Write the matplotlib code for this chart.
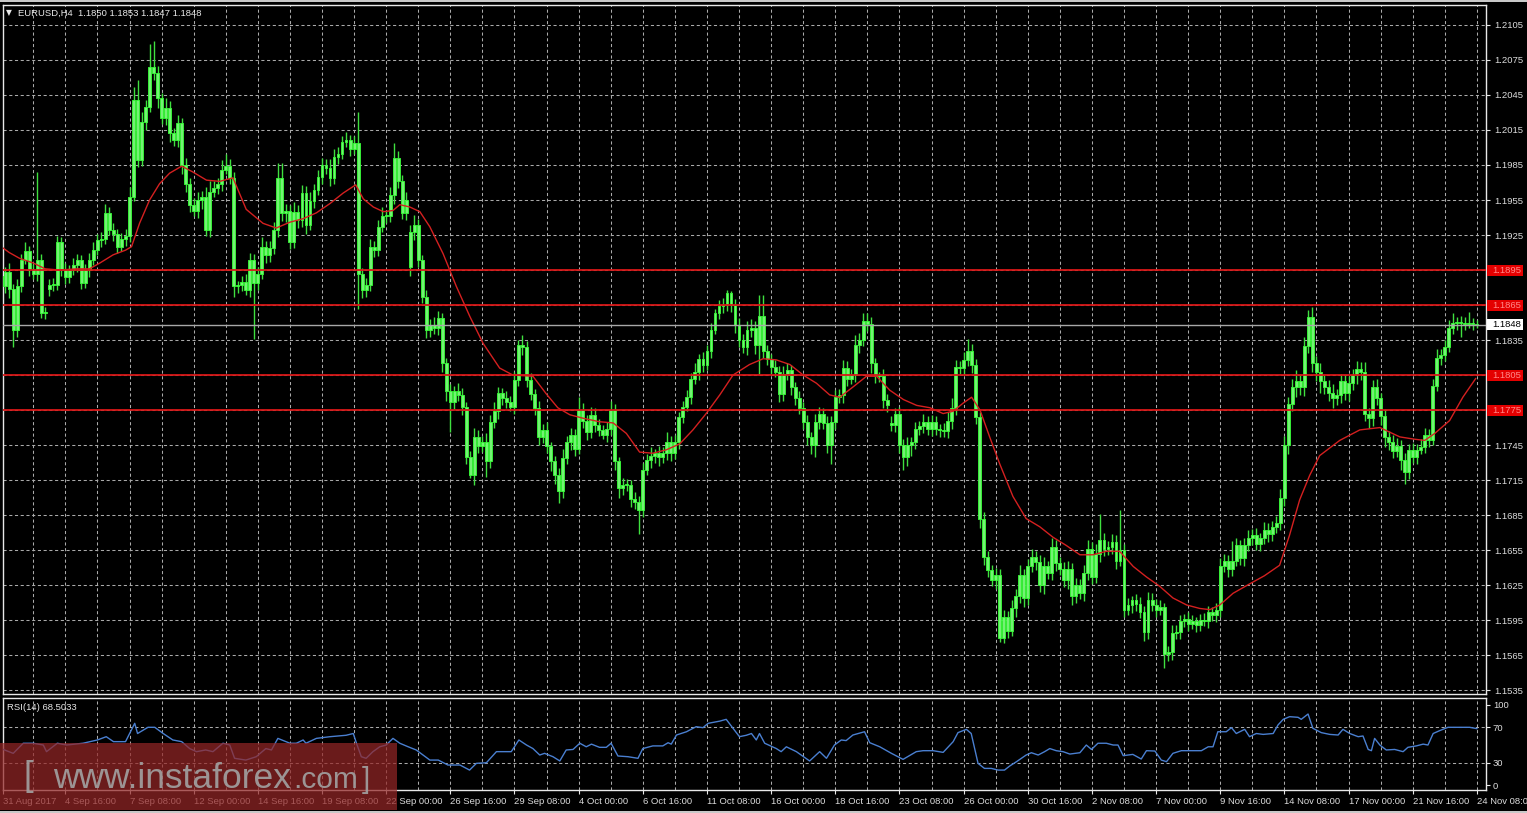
import numpy as np
import matplotlib
matplotlib.use("Agg")
import matplotlib.pyplot as plt
from matplotlib.patches import Rectangle
from matplotlib.collections import LineCollection, PolyCollection

W, H = 1527, 813

# ---------------------------------------------------------------
# data (prices in pips above 1.0000, e.g. 1897 -> 1.1897)
# ---------------------------------------------------------------
date_labels = ["31 Aug 2017", "4 Sep 16:00", "7 Sep 08:00", "12 Sep 00:00", "14 Sep 16:00",
               "19 Sep 08:00", "22 Sep 00:00", "26 Sep 16:00", "29 Sep 08:00", "4 Oct 00:00",
               "6 Oct 16:00", "11 Oct 08:00", "16 Oct 00:00", "18 Oct 16:00", "23 Oct 08:00",
               "26 Oct 00:00", "30 Oct 16:00", "2 Nov 08:00", "7 Nov 00:00", "9 Nov 16:00",
               "14 Nov 08:00", "17 Nov 00:00", "21 Nov 16:00", "24 Nov 08:00"]

first_open = 1890
closes = [
    1881, 1893, 1879, 1844, 1881, 1904, 1911, 1896, 1892, 1904, 1858, 1859, 1882, 1882, 1919, 1896,
    1889, 1895, 1899, 1904, 1884, 1895, 1904, 1912, 1921, 1922, 1944, 1929, 1926, 1915, 1922, 1924,
    1958, 2041, 1989, 2022, 2035, 2069, 2064, 2042, 2025, 2034, 2012, 2006, 2021, 1985, 1969, 1951,
    1946, 1955, 1958, 1929, 1962, 1965, 1969, 1981, 1984, 1974, 1881, 1882, 1885, 1878, 1904, 1884,
    1892, 1915, 1908, 1914, 1929, 1974, 1944, 1946, 1919, 1945, 1938, 1961, 1934, 1954, 1964, 1975,
    1985, 1982, 1974, 1992, 1994, 2005, 2006, 1999, 2004, 1892, 1878, 1882, 1915, 1912, 1932, 1941,
    1941, 1959, 1991, 1971, 1944, 1955, 1928, 1934, 1904, 1872, 1844, 1848, 1845, 1854, 1815, 1791,
    1782, 1791, 1788, 1778, 1735, 1719, 1752, 1744, 1748, 1731, 1765, 1774, 1790, 1785, 1782, 1778,
    1801, 1831, 1829, 1801, 1789, 1777, 1752, 1758, 1744, 1731, 1719, 1706, 1734, 1748, 1754, 1742,
    1775, 1766, 1756, 1771, 1762, 1758, 1754, 1759, 1775, 1731, 1708, 1711, 1711, 1699, 1696, 1689,
    1724, 1732, 1736, 1738, 1735, 1738, 1748, 1738, 1748, 1769, 1778, 1786, 1802, 1808, 1819, 1814,
    1826, 1844, 1858, 1864, 1865, 1875, 1865, 1848, 1835, 1829, 1844, 1845, 1831, 1856, 1826, 1819,
    1812, 1808, 1789, 1806, 1809, 1795, 1785, 1777, 1765, 1752, 1745, 1765, 1772, 1764, 1745, 1765,
    1786, 1788, 1811, 1802, 1805, 1831, 1835, 1851, 1849, 1815, 1804, 1804, 1784, 1779, 1762, 1772,
    1745, 1735, 1745, 1748, 1759, 1761, 1765, 1759, 1765, 1759, 1758, 1757, 1766, 1777, 1812, 1811,
    1818, 1826, 1814, 1769, 1682, 1649, 1638, 1629, 1634, 1580, 1598, 1586, 1605, 1616, 1634, 1614,
    1641, 1649, 1645, 1625, 1641, 1635, 1658, 1644, 1639, 1629, 1639, 1616, 1625, 1618, 1635, 1656,
    1632, 1652, 1664, 1656, 1658, 1662, 1646, 1655, 1604, 1608, 1612, 1609, 1602, 1585, 1612, 1608,
    1604, 1606, 1566, 1568, 1584, 1585, 1594, 1596, 1592, 1594, 1591, 1595, 1594, 1602, 1599, 1604,
    1641, 1646, 1639, 1646, 1659, 1648, 1659, 1665, 1668, 1660, 1665, 1672, 1669, 1675, 1678, 1700,
    1745, 1780, 1795, 1800, 1795, 1830, 1855, 1815, 1808, 1800, 1795, 1790, 1785, 1788, 1800, 1790,
    1798, 1805, 1810, 1808, 1772, 1768, 1795, 1785, 1770, 1752, 1748, 1740, 1744, 1732, 1722, 1741,
    1735, 1741, 1743, 1754, 1749, 1796, 1820, 1822, 1829, 1845, 1850, 1850, 1850, 1849, 1850, 1849,
    1848,
]
gap_open = {12: 1879, 102: 1898, 222: 1764}

up_wick = [
    6, 5, 8, 4, 6, 5, 8, 5, 4, 75, 5, 4, 5, 6, 5, 4,
    5, 4, 6, 5, 4, 5, 6, 7, 5, 6, 8, 5, 6, 4, 5, 6,
    8, 11, 17, 8, 6, 20, 22, 6, 5, 8, 6, 5, 7, 4, 6, 5,
    6, 7, 5, 8, 9, 6, 5, 8, 10, 6, 5, 4, 5, 7, 6, 5,
    6, 8, 5, 6, 7, 13, 13, 6, 5, 8, 6, 7, 6, 8, 5, 6,
    6, 5, 8, 7, 6, 5, 7, 5, 6, 26, 5, 6, 7, 5, 6, 8,
    5, 7, 13, 6, 5, 7, 6, 8, 5, 4, 6, 5, 7, 6, 4, 5,
    6, 5, 7, 6, 4, 5, 8, 6, 5, 7, 6, 8, 5, 4, 6, 5,
    7, 4, 8, 5, 6, 4, 6, 5, 7, 4, 5, 6, 8, 5, 6, 5,
    11, 6, 5, 7, 6, 5, 4, 6, 8, 5, 4, 6, 5, 4, 6, 5,
    6, 5, 7, 4, 6, 5, 8, 5, 6, 4, 5, 6, 5, 7, 4, 6,
    5, 6, 4, 5, 6, 3, 2, 5, 6, 5, 7, 8, 6, 18, 18, 5,
    4, 6, 5, 7, 6, 5, 4, 6, 5, 6, 4, 7, 6, 5, 6, 5,
    6, 5, 7, 6, 5, 8, 6, 7, 7, 6, 5, 4, 6, 5, 6, 5,
    6, 5, 7, 4, 6, 5, 7, 5, 6, 5, 4, 6, 7, 8, 6, 5,
    7, 10, 6, 5, 4, 6, 5, 4, 6, 5, 6, 5, 7, 6, 8, 5,
    6, 7, 5, 6, 8, 5, 7, 6, 5, 6, 7, 5, 6, 5, 7, 8,
    6, 8, 22, 6, 5, 7, 6, 34, 5, 6, 4, 5, 6, 5, 7, 6,
    5, 6, 4, 5, 7, 6, 5, 4, 6, 5, 4, 5, 6, 5, 4, 6,
    7, 6, 5, 17, 6, 5, 6, 7, 5, 6, 5, 7, 6, 5, 6, 7,
    8, 6, 7, 9, 6, 8, 6, 8, 6, 7, 5, 6, 7, 5, 6, 5,
    6, 5, 7, 6, 8, 5, 6, 7, 5, 6, 5, 6, 7, 5, 6, 5,
    6, 5, 7, 6, 5, 6, 7, 5, 6, 7, 8, 5, 6, 5, 9, 4,
    3,
]
dn_wick = [
    5, 6, 8, 15, 6, 5, 4, 6, 5, 6, 4, 5, 6, 5, 4, 6,
    6, 5, 4, 6, 5, 4, 6, 5, 4, 6, 5, 4, 6, 5, 4, 6,
    5, 4, 6, 5, 7, 5, 6, 8, 5, 6, 7, 5, 6, 8, 7, 6,
    5, 6, 8, 5, 6, 4, 5, 6, 4, 5, 9, 6, 5, 4, 6, 48,
    6, 5, 7, 6, 5, 6, 7, 8, 6, 5, 7, 6, 8, 5, 6, 5,
    6, 5, 7, 5, 6, 4, 5, 6, 5, 30, 7, 6, 5, 6, 5, 4,
    6, 5, 7, 6, 5, 6, 8, 7, 6, 5, 7, 6, 5, 6, 7, 8,
    26, 6, 5, 7, 6, 2, 8, 6, 5, 13, 6, 5, 7, 6, 5, 4,
    6, 5, 7, 6, 5, 6, 7, 5, 6, 8, 7, 11, 6, 5, 7, 6,
    5, 6, 7, 5, 6, 5, 4, 6, 5, 7, 8, 6, 5, 7, 6, 20,
    6, 5, 7, 6, 8, 5, 6, 7, 5, 6, 5, 4, 6, 5, 7, 6,
    5, 6, 4, 5, 6, 5, 6, 7, 6, 5, 7, 6, 8, 25, 6, 5,
    6, 5, 7, 6, 5, 7, 6, 5, 6, 7, 8, 10, 6, 5, 7, 16,
    6, 5, 7, 6, 5, 6, 7, 5, 6, 8, 6, 5, 7, 6, 5, 6,
    7, 11, 8, 9, 6, 5, 6, 5, 6, 5, 6, 5, 6, 7, 6, 5,
    6, 5, 7, 6, 8, 7, 6, 5, 7, 4, 5, 6, 5, 7, 6, 8,
    6, 5, 7, 6, 8, 5, 6, 7, 5, 6, 7, 8, 6, 5, 7, 6,
    6, 5, 7, 6, 5, 6, 7, 5, 6, 5, 7, 6, 5, 8, 6, 5,
    6, 5, 12, 6, 7, 5, 6, 5, 6, 5, 6, 5, 4, 6, 5, 6,
    6, 5, 7, 6, 5, 6, 7, 5, 6, 5, 6, 5, 7, 6, 5, 6,
    7, 8, 6, 9, 7, 8, 6, 7, 8, 10, 6, 7, 8, 6, 7, 6,
    7, 6, 8, 7, 6, 8, 7, 6, 8, 9, 7, 6, 5, 8, 10, 6,
    5, 6, 4, 5, 6, 4, 5, 6, 5, 4, 5, 6, 12, 5, 4, 5,
    3,
]

# moving average (red) read at bar positions
ma_bars = [0, 2, 4.6, 8, 11, 14.6, 18.7, 22, 24.6, 27.9, 31, 32.5, 34.5, 37, 39.5, 42, 45, 47.8,
           51.2, 54.5, 57.8, 61.1, 65.3, 68.6, 72, 75.3, 78.6, 82, 85.3, 88.4, 90.3, 92.8, 95.3,
           97.7, 99.4, 101.9, 104.4, 106.9, 110.2, 113.5, 116.9, 120.2, 124.3, 127.6, 132.6,
           135.9, 138.8, 141.8, 145.1, 149.2, 152.6, 155.9, 159.2, 162.5, 165.9, 169.2, 172.5,
           175.8, 179.2, 182.5, 186.6, 190, 193.3, 196.7, 200, 203.3, 206.6, 209.1, 212.5, 215.8,
           218.3, 221.6, 225, 228.3, 231.6, 234.9, 237.4, 239.9, 242, 244.1, 246.5, 249, 252.3,
           255.6, 259, 262.3, 265.6, 269, 272.3, 275.6, 278.9, 282.3, 285.6, 288.9, 292.2, 295.6,
           298.9, 301.4, 303.9, 307.2, 311.3, 315, 318.8, 321.3, 323.8, 326.3, 328.8, 333.8,
           338.8, 343.8, 348.8, 352.5, 355, 357.5, 361.2, 364.5, 367.7]
ma_vals = [1915, 1910, 1905, 1901, 1896, 1895, 1896, 1896, 1901, 1908, 1912, 1915, 1935, 1955,
           1969, 1978, 1984, 1979, 1972, 1971, 1974, 1947, 1935, 1931, 1936, 1939, 1944, 1952,
           1961, 1968, 1956, 1949, 1945, 1946, 1951, 1949, 1945, 1932, 1909, 1881, 1855, 1832,
           1811, 1805, 1804, 1789, 1777, 1771, 1768, 1765, 1764, 1755, 1739, 1738, 1741, 1746,
           1758, 1772, 1788, 1805, 1814, 1819, 1818, 1814, 1805, 1798, 1788, 1786, 1795, 1804,
           1804, 1792, 1784, 1779, 1777, 1772, 1774, 1781, 1786, 1775, 1752, 1729, 1701, 1682,
           1675, 1666, 1659, 1651, 1651, 1654, 1654, 1641, 1632, 1624, 1614, 1608, 1605, 1604,
           1608, 1618, 1626, 1633, 1642, 1668, 1698, 1719, 1736, 1749, 1758, 1760, 1752, 1750,
           1749, 1755, 1766, 1786, 1802]

# RSI(14) read at bar positions
rsi_bars = [0.5, 3, 5.5, 8, 10.5, 11.3, 14, 16.3, 20.4, 24, 26.2, 28, 31, 33.3, 34, 36.6, 38.3,
            40.4, 42.8, 45, 47, 48.7, 51, 52.8, 55.3, 57, 58.2, 61, 63.6, 66, 67.4, 69, 72, 73.6,
            75.3, 76, 78.6, 82, 86, 87.8, 88.6, 89.8, 91, 92.7, 94.4, 96, 97.7, 99.4, 101.5,
            103.5, 105.2, 106.9, 109, 111.4, 114.4, 116.8, 118.5, 121, 123.5, 127.2, 129.1, 131,
            132.6, 134.3, 135.5, 137.6, 139.3, 140.9, 142.6, 144.3, 145.9, 147.2, 149.2, 150.9,
            152.1, 153.8, 156.3, 158.8, 160, 162.5, 165, 166.3, 167.1, 168.4, 170.9, 173.3, 175,
            176.3, 179.2, 180.8, 184.1, 185.8, 187.1, 188.3, 189.1, 190.4, 193.3, 194.5, 195.8,
            198.3, 201.6, 204.1, 205.8, 207.8, 209.5, 210.7, 212.4, 215.3, 216.6, 219.1, 222,
            224.9, 228.2, 229.9, 232.4, 234.9, 237.4, 238.6, 240.7, 241.9, 243.6, 245.2, 246.9,
            248.6, 250.2, 251.5, 253.2, 254.4, 255.6, 256.9, 258.6, 260.2, 261.5, 263.1, 264.8,
            266.5, 269, 270.6, 271.9, 273.5, 275.6, 277.3, 278.5, 279.8, 282.2, 284.3, 285.6,
            287.7, 289.3, 290.6, 292.2, 294.3, 296.8, 299.3, 301, 302.2, 303.4, 305.5, 306.8, 308,
            310.1, 311.3, 313, 314.7, 317.2, 318.4, 319.7, 321.3, 323.4, 324.2, 325.9, 327.1,
            329.2, 331.3, 333.4, 334.6, 336.3, 338.4, 339.6, 340.9, 341.7, 342.5, 343.8, 345.4,
            347.5, 349.6, 350.8, 352.9, 354.6, 355.8, 357.1, 358.7, 360.8, 363.7, 366.2, 368]
rsi_vals = [45, 40.6, 52, 52, 50, 42.5, 52, 50, 52, 55.7, 59.4, 53.8, 53.8, 74.5, 63, 70, 70,
            63, 55.7, 53.8, 46, 42.5, 44.4, 42.5, 52, 50, 35, 33, 36.8, 46, 44.4, 57.5, 52, 52,
            55.7, 52, 57.5, 59.4, 61, 63, 52, 36.8, 35, 42.5, 48, 50, 57.5, 52, 48,
            44.4, 38.7, 33, 33, 27.4, 27.4, 21.7, 29.3, 30, 42.5, 42.5, 55.7, 50,
            46, 38.7, 40.6, 36.8, 32, 44.4, 45, 52, 48, 51, 47.4, 47.4,
            52, 37.6, 36.8, 35, 46, 49, 49, 52.6, 51, 61.3, 65, 70.7, 69.6,
            74.5, 77, 79, 59.4, 61, 63, 55.7, 63, 52, 46, 42.5, 48,
            42.5, 32, 42.5, 35, 50, 55.7, 55, 61.3, 65, 52.6, 48, 40.6,
            33.8, 42.5, 43.6, 43.6, 41.7, 53.8, 64, 67.7, 63, 29.3, 23.6, 23.6,
            21.7, 21.7, 26.3, 31.2, 35, 38.7, 41.3, 38.7, 42.5, 46, 43.6, 42.5,
            39.8, 41.3, 50, 45, 52, 52, 50, 50, 38, 39.4, 34.2, 43.6,
            43.2, 33, 31.2, 40.6, 43.6, 43.6, 43.6, 48, 48, 65, 65, 69.6, 63,
            67.7, 59.4, 63, 62, 63, 72.6, 79, 82, 81.3, 79, 85, 68.9,
            64, 62, 61.3, 67.7, 63, 59.4, 60.2, 45, 43.6, 57.5, 50, 44.4,
            45, 42.5, 47.4, 49, 51, 50, 63, 66.2, 70, 70, 70, 68.5]

levels = [1895, 1865, 1805, 1775]
last_price = 1848
price_grid = list(range(1535, 2106, 30))


def px(v):
    return 1.0 + np.asarray(v, dtype=float) / 10000.0


# ---------------------------------------------------------------
# figure / axes
# ---------------------------------------------------------------
fig = plt.figure(figsize=(W / 100, H / 100), dpi=100, facecolor="black")
left, right = 3, 1486
ax = fig.add_axes([left / W, 1 - 694 / H, (right - left) / W, (694 - 5) / H])
axr = fig.add_axes([left / W, 1 - 790 / H, (right - left) / W, (790 - 698) / H])

n = len(closes)
xlo = 0.45
xhi = xlo + (right - left) / 4.01
font = ["Liberation Sans", "DejaVu Sans"]
fs = 6.8
grid_kw = dict(color="#aaaaaa", lw=0.75, ls=(0, (3, 2.5)))

for a in (ax, axr):
    a.set_facecolor("black")
    a.set_xlim(xlo, xhi)
    for s in a.spines.values():
        s.set_color("#e8e8e8")
        s.set_linewidth(1.0)
    a.set_xticks(np.arange(8, n + 2, 8))
    a.xaxis.grid(True, **grid_kw)
    a.set_axisbelow(True)

# candles
opens = []
prev = first_open
for i, c in enumerate(closes):
    o = gap_open.get(i, prev)
    opens.append(o)
    prev = c
opens = np.array(opens, dtype=float)
cl = np.array(closes, dtype=float)
hi = np.maximum(opens, cl) + np.array(up_wick)
lo = np.minimum(opens, cl) - np.array(dn_wick)

idx = np.arange(n)
wicks = [[(i, px(lo[i])), (i, px(hi[i]))] for i in idx]
ax.add_collection(LineCollection(wicks, colors="#3fe03f", linewidths=1.0, zorder=3))
bw = 0.36
bodies = []
for i in idx:
    b0, b1 = px(min(opens[i], cl[i])), px(max(opens[i], cl[i]))
    if b1 - b0 < 0.00008:
        b1 = b0 + 0.00008
    bodies.append([(i - bw, b0), (i + bw, b0), (i + bw, b1), (i - bw, b1)])
ax.add_collection(PolyCollection(bodies, facecolors="#74f274", edgecolors="#36ff36",
                                 linewidths=0.6, zorder=4))

# moving average and levels
ax.plot(ma_bars, px(ma_vals), color="#d42020", lw=1.0, zorder=5)
for lv in levels:
    ax.axhline(px(lv), color="#d81818", lw=1.3, zorder=6)
ax.axhline(px(last_price), color="#a8a8a8", lw=1.0, zorder=6)

ax.set_ylim(1.15317, 1.21221)
ax.yaxis.tick_right()
ax.set_yticks(px(price_grid))
ax.set_yticklabels(["" if p in levels else "1.%04d" % p for p in price_grid],
                   fontsize=fs, family=font, color="#dcdcdc")
ax.yaxis.grid(True, **grid_kw)
ax.tick_params(axis="y", length=3, width=0.8, color="#e8e8e8", pad=3)
ax.tick_params(axis="x", length=0, labelbottom=False)

# price label boxes on the right
blend = ax.get_yaxis_transform()
bh = 11 / 11667
for lv in levels:
    ax.add_patch(Rectangle((1.0008, px(lv) - bh / 2), 36 / (right - left), bh, transform=blend,
                           facecolor="#e40000", edgecolor="none", clip_on=False, zorder=10))
    ax.text(1.0045, px(lv), "1.%04d" % lv, transform=blend, fontsize=fs, family=font,
            color="#ff8a8a", va="center", ha="left", clip_on=False, zorder=11)
ax.add_patch(Rectangle((1.0008, px(last_price) - bh / 2), 36 / (right - left), bh, transform=blend,
                       facecolor="white", edgecolor="none", clip_on=False, zorder=10))
ax.text(1.0045, px(last_price), "1.%04d" % last_price, transform=blend, fontsize=fs,
        family=font, color="black", va="center", ha="left", clip_on=False, zorder=11)

# RSI panel
axr.plot(rsi_bars, rsi_vals, color="#4a7fd0", lw=1.0, zorder=4)
axr.set_ylim(-0.8, 103.1)
for lv in (30, 70):
    axr.axhline(lv, **grid_kw, zorder=1)
axr.yaxis.tick_right()
axr.set_yticks([4.8, 30, 70, 95.2])
axr.set_yticklabels(["0", "30", "70", "100"], fontsize=fs, family=font, color="#dcdcdc")
axr.tick_params(axis="y", length=3, width=0.8, color="#e8e8e8", pad=2)

major = [xlo + 0.02] + list(range(16, n + 1, 16))
axr.set_xticks(major)
axr.set_xticks(np.arange(8, n + 2, 16), minor=True)
axr.xaxis.grid(True, which="both", **grid_kw)
axr.set_xticklabels(date_labels, fontsize=fs, family=font, color="#dcdcdc", ha="left")
axr.tick_params(axis="x", which="major", length=3, width=0.8, color="#e8e8e8", pad=2)
axr.tick_params(axis="x", which="minor", length=0)

# header texts
fig.text(6 / W, 1 - 13 / H, "\u25bc", fontsize=5.5, family=["DejaVu Sans"], color="#e8e8e8",
         va="center")
fig.text(18 / W, 1 - 13 / H, "EURUSD,H4  1.1850 1.1853 1.1847 1.1848", fontsize=fs,
         family=font, color="#e8e8e8", va="center")
fig.text(7 / W, 1 - 707 / H, "RSI(14) 68.5033", fontsize=fs, family=font, color="#e8e8e8",
         va="center")

# window borders
fig.add_artist(Rectangle((0, 1 - 2 / H), 1, 2 / H, transform=fig.transFigure,
                         facecolor="#c8c8c8", edgecolor="none"))
fig.add_artist(Rectangle((0, 0), 1, 2 / H, transform=fig.transFigure,
                         facecolor="#c8c8c8", edgecolor="none"))

# watermark
fig.add_artist(Rectangle((0, 1 - 810 / H), 397 / W, 67 / H, transform=fig.transFigure,
                         facecolor=(0.58, 0.15, 0.15), alpha=0.72, edgecolor="none", zorder=20))
base = 1 - 788 / H
wm = dict(family=font, color="#a2a2a2", va="baseline", zorder=21, alpha=0.9)
fig.text(24 / W, base + 2 / H, "[", fontsize=25, **wm)
fig.text(53 / W, base, "www.instaforex", fontsize=25.5, **wm)
fig.text(293 / W, base, ".com", fontsize=21.5, **wm)
fig.text(362 / W, base, "]", fontsize=21.5, **wm)

fig.savefig("out.png", dpi=100, facecolor="black")
